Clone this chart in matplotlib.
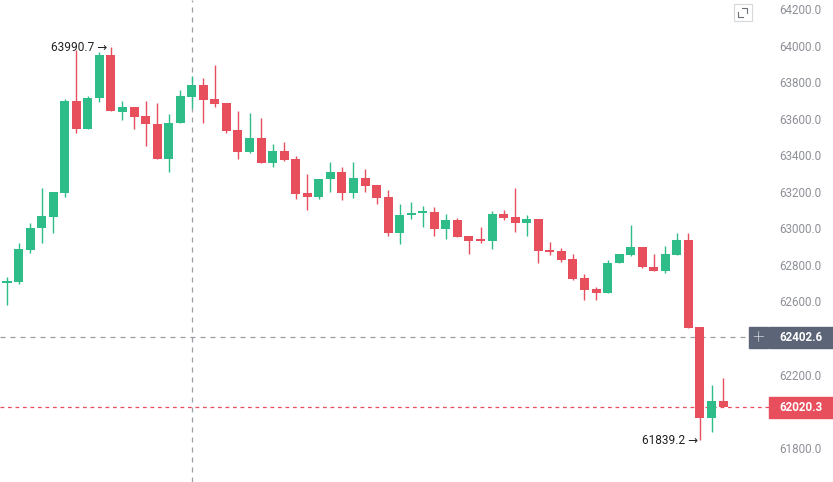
import matplotlib.pyplot as plt
from matplotlib.patches import Rectangle
from matplotlib.ticker import FormatStrFormatter
import numpy as np

plt.rcParams['font.family'] = ['Roboto', 'DejaVu Sans']

# candle data (index order, left to right)
opens = [62701, 62706, 62882, 63002, 63062, 63193, 63696, 63543, 63713, 63948,
         63636, 63664, 63614, 63571, 63379, 63576, 63718, 63784, 63707, 63686,
         63538, 63418, 63494, 63357, 63423, 63379, 63193, 63171, 63270, 63308,
         63193, 63275, 63237, 63171, 62974, 63073, 63084, 63089, 62996, 63046,
         62958, 62942, 62931, 63078, 63062, 63029, 63051, 62881, 62876, 62832,
         62728, 62668, 62646, 62810, 62854, 62898, 62788, 62767, 62854, 62936,
         62460, 61962, 62056]
highs = [62734, 62920, 63029, 63221, 63199, 63707, 63975, 63724, 63965, 63990.7,
         63697, 63664, 63697, 63686, 63625, 63757, 63833, 63822, 63893, 63686,
         63642, 63631, 63603, 63461, 63472, 63396, 63297, 63270, 63363, 63336,
         63363, 63325, 63237, 63210, 63133, 63144, 63122, 63117, 63078, 63057,
         62958, 63007, 63095, 63100, 63221, 63073, 63051, 62925, 62892, 62860,
         62750, 62679, 62827, 62860, 63018, 62898, 62860, 62903, 62974, 62974,
         62460, 62143, 62181]
lows = [62581, 62695, 62865, 62920, 62974, 63171, 63521, 63543, 63691, 63642,
        63593, 63543, 63450, 63379, 63308, 63576, 63658, 63576, 63664, 63521,
        63379, 63412, 63357, 63335, 63368, 63160, 63100, 63160, 63199, 63155,
        63166, 63199, 63133, 62958, 62914, 63051, 63007, 62958, 62942, 62953,
        62860, 62920, 62887, 63046, 62980, 62958, 62810, 62854, 62816, 62717,
        62608, 62608, 62646, 62810, 62849, 62783, 62767, 62756, 62854, 62455,
        61839.2, 61886, 62020.3]
closes = [62712, 62887, 63002, 63067, 63199, 63696, 63543, 63713, 63948, 63642,
          63664, 63609, 63571, 63379, 63576, 63724, 63784, 63702, 63680, 63532,
          63418, 63494, 63357, 63423, 63374, 63188, 63171, 63270, 63308, 63193,
          63275, 63232, 63166, 62974, 63073, 63084, 63089, 62996, 63046, 62953,
          62931, 62931, 63078, 63057, 63029, 63051, 62876, 62871, 62827, 62723,
          62663, 62646, 62810, 62860, 62898, 62788, 62767, 62860, 62936, 62455,
          61962, 62056, 62020.3]

# 62000 and 62400 sit under the price boxes, so they are not shown
y_ticks = [61800, 62200, 62600, 62800, 63000, 63200, 63400, 63600, 63800, 64000, 64200]
cross_idx = 16
cross_price = 62402.6
last_price = 62020.3

green = '#2ebd88'
red = '#e84f5c'

fig = plt.figure(figsize=(8.33, 4.82), dpi=100)
ax = fig.add_axes([0, 0, 1, 1])
x = np.arange(len(opens))
o = np.array(opens)
c = np.array(closes)
cols = [green if cc >= oo else red for oo, cc in zip(o, c)]

ax.vlines(x, lows, highs, colors=cols, linewidth=1, zorder=3)
body = np.maximum(np.abs(c - o), 8)
ax.bar(x, body, bottom=np.minimum(o, c), width=0.78, color=cols, zorder=4)

ax.set_xlim(-0.606, 71.52)
ax.set_ylim(61612, 64249)

ax.yaxis.tick_right()
ax.set_yticks(y_ticks)
ax.yaxis.set_major_formatter(FormatStrFormatter('%.1f'))
ax.tick_params(axis='y', length=0, pad=-39, labelsize=8.4, labelcolor='#8e9098')
ax.set_xticks([])
for s in ax.spines.values():
    s.set_visible(False)

# crosshair and last price lines
ax.axvline(cross_idx, color='#9a9ea6', lw=0.9, ls=(0, (4, 4)), zorder=1)
ax.plot([-0.606, 64.3], [cross_price, cross_price], color='#9a9ea6', lw=0.9,
        ls=(0, (4, 4)), zorder=1)
ax.plot([-0.606, 66], [last_price, last_price], color='#e84f5c', lw=0.9,
        ls=(0, (3, 3)), zorder=1)

tr = ax.get_yaxis_transform()
ax.add_patch(Rectangle((749 / 833, cross_price - 57), 19 / 833, 114,
                       transform=tr, color='#5c6577', zorder=6, clip_on=False))
ax.add_patch(Rectangle((769 / 833, cross_price - 57), 64 / 833, 114,
                       transform=tr, color='#5c6577', zorder=6, clip_on=False))
ax.text(758.5 / 833, cross_price, '+', transform=tr, color='white', fontsize=15,
        ha='center', va='center', zorder=7, fontweight='light')
ax.text(779 / 833, cross_price, '%.1f' % cross_price, transform=tr,
        color='white', fontsize=8.4, fontweight='bold', ha='left', va='center', zorder=7)
ax.add_patch(Rectangle((769 / 833, last_price - 57), 64 / 833, 114,
                       transform=tr, color=red, zorder=6, clip_on=False))
ax.text(779 / 833, last_price, '%.1f' % last_price, transform=tr,
        color='white', fontsize=8.4, fontweight='bold', ha='left', va='center', zorder=7)

# high / low markers
hi = int(np.argmax(highs))
lo = int(np.argmin(lows))
ax.text(hi - 0.32, highs[hi], '%.1f \u2192' % highs[hi], ha='right', va='center',
        fontsize=8.6, color='#222222', zorder=8)
ax.text(lo - 0.12, lows[lo], '%.1f \u2192' % lows[lo], ha='right', va='center',
        fontsize=8.6, color='#222222', zorder=8)

# fullscreen icon
ax.add_patch(Rectangle((733.5 / 833, 1 - 21 / 482), 18 / 833, 17 / 482,
                       transform=ax.transAxes, fill=False, edgecolor='#d6d8dc',
                       lw=0.8, zorder=6))
ax.plot(np.array([742, 747, 747]) / 833, 1 - np.array([8, 8, 13]) / 482,
        transform=ax.transAxes, color='#6b6f78', lw=0.8, zorder=7)
ax.plot(np.array([738, 738, 743]) / 833, 1 - np.array([12, 17, 17]) / 482,
        transform=ax.transAxes, color='#6b6f78', lw=0.8, zorder=7)

fig.savefig('out.png', dpi=100)
